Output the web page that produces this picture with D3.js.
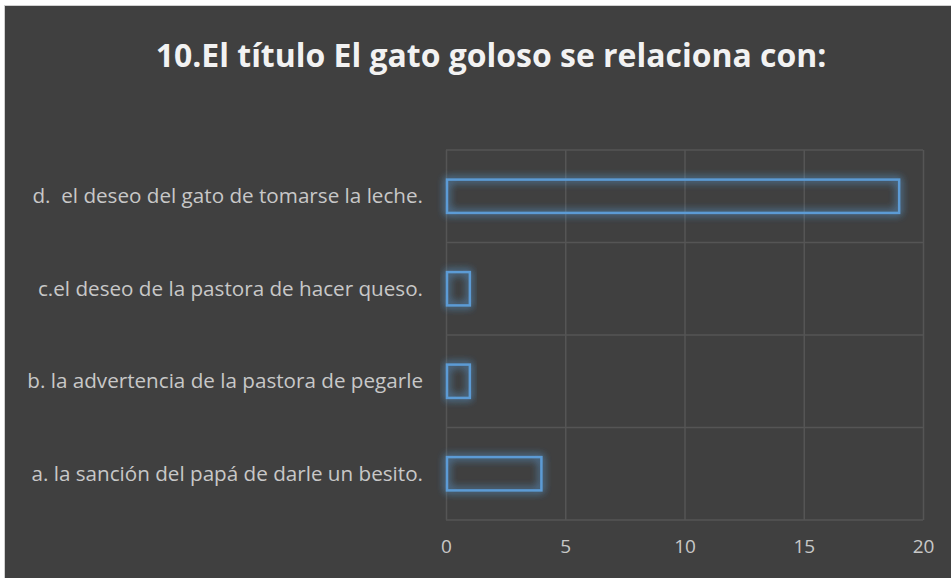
<!DOCTYPE html>
<html>
<head>
<meta charset="utf-8">
<script src="https://cdn.jsdelivr.net/npm/d3@7"></script>
<style>
  body { margin: 0; background: #fff; overflow: hidden; }
  svg { display: block; }
  svg text { font-family: "Open Sans", "Noto Sans", sans-serif; white-space: pre; }
</style>
</head>
<body>
<svg id="chart" width="951" height="578"></svg>
<script>
// data
const categories = [
  "a. la sanción del papá de darle un besito.",
  "b. la advertencia de la pastora de pegarle",
  "c.el deseo de la pastora de hacer queso.",
  "d.  el deseo del gato de tomarse la leche."
];
const values = [4, 1, 1, 19];
const xTicks = [0, 5, 10, 15, 20];
const title = "10.El título El gato goloso se relaciona con:";

const svg = d3.select("#chart");
const width = +svg.attr("width");
const height = +svg.attr("height");

// chart area background with light frame
svg.append("rect")
  .attr("x", 4.5).attr("y", 5.5)
  .attr("width", width - 4).attr("height", height - 5)
  .attr("fill", "#404040")
  .attr("stroke", "#d0d0d0")
  .attr("stroke-width", 1);

const margin = { top: 150, right: 28, bottom: 58, left: 446 };
const innerWidth = width - margin.left - margin.right;
const innerHeight = height - margin.top - margin.bottom;

const xScale = d3.scaleLinear().domain([0, 20]).range([0, innerWidth]);
const yScale = d3.scaleBand()
  .domain(categories.slice().reverse())
  .range([0, innerHeight])
  .paddingInner(0.64).paddingOuter(0.32);

// glow filter for the bars (blue halo in and out of the outline)
const defs = svg.append("defs");
const glow = defs.append("filter").attr("id", "glow")
  .attr("x", "-30%").attr("y", "-100%").attr("width", "160%").attr("height", "300%");
glow.append("feGaussianBlur").attr("in", "SourceAlpha").attr("stdDeviation", 4).attr("result", "blur");
glow.append("feFlood").attr("flood-color", "#5b9bd5").attr("flood-opacity", 0.75).attr("result", "col");
glow.append("feComposite").attr("in", "col").attr("in2", "blur").attr("operator", "in").attr("result", "halo");
const merge = glow.append("feMerge");
merge.append("feMergeNode").attr("in", "halo");
merge.append("feMergeNode").attr("in", "halo");
merge.append("feMergeNode").attr("in", "SourceGraphic");

const g = svg.append("g")
  .attr("transform", `translate(${margin.left}, ${margin.top})`);

// x axis with vertical grid lines
const xAxis = d3.axisBottom(xScale)
  .tickValues(xTicks)
  .tickSize(-innerHeight)
  .tickPadding(20);

const xAxisG = g.append("g").call(xAxis)
  .attr("transform", `translate(0, ${innerHeight})`)
  .attr("font-size", null)
  .attr("font-family", null);
xAxisG.select(".domain").remove();
xAxisG.selectAll("line").attr("stroke", "#555555").attr("stroke-width", 1.5);
xAxisG.selectAll("text")
  .attr("fill", "#c8c8c8")
  .style("font-size", "19px");

// horizontal grid lines between categories
const bandEdges = d3.range(categories.length + 1).map(i => i * innerHeight / categories.length);
g.selectAll(".hgrid").data(bandEdges)
  .enter().append("line")
    .attr("class", "hgrid")
    .attr("x1", 0).attr("x2", innerWidth)
    .attr("y1", d => d).attr("y2", d => d)
    .attr("stroke", "#555555")
    .attr("stroke-width", 1.5);

// y labels
const labels = svg.append("g").selectAll("text").data(categories)
  .enter().append("text")
    .attr("x", 423)
    .attr("y", d => margin.top + yScale(d) + yScale.bandwidth() / 2 + 7)
    .attr("text-anchor", "end")
    .attr("fill", "#c8c8c8")
    .style("font-size", "17px")
    .text(d => d);

// fit label font so the longest one spans ~396px like the original
let maxW = 0;
labels.each(function() { maxW = Math.max(maxW, this.getComputedTextLength()); });
labels.style("font-size", (17 * 396 / maxW) + "px");

// bars: outline only with soft glow
g.selectAll(".bar").data(values)
  .enter().append("rect")
    .attr("class", "bar")
    .attr("x", 1)
    .attr("y", (d, i) => yScale(categories[i]))
    .attr("width", d => xScale(d) - 1)
    .attr("height", yScale.bandwidth())
    .attr("fill", "none")
    .attr("stroke", "#5b9bd5")
    .attr("stroke-width", 2.5)
    .attr("filter", "url(#glow)");

// title
const t = svg.append("text")
  .attr("x", 491)
  .attr("y", 67)
  .attr("text-anchor", "middle")
  .attr("fill", "#f2f2f2")
  .style("font-weight", "bold")
  .style("font-size", "28px")
  .text(title);
const tw = t.node().getComputedTextLength();
t.style("font-size", (28 * 671 / tw) + "px");
</script>
</body>
</html>
